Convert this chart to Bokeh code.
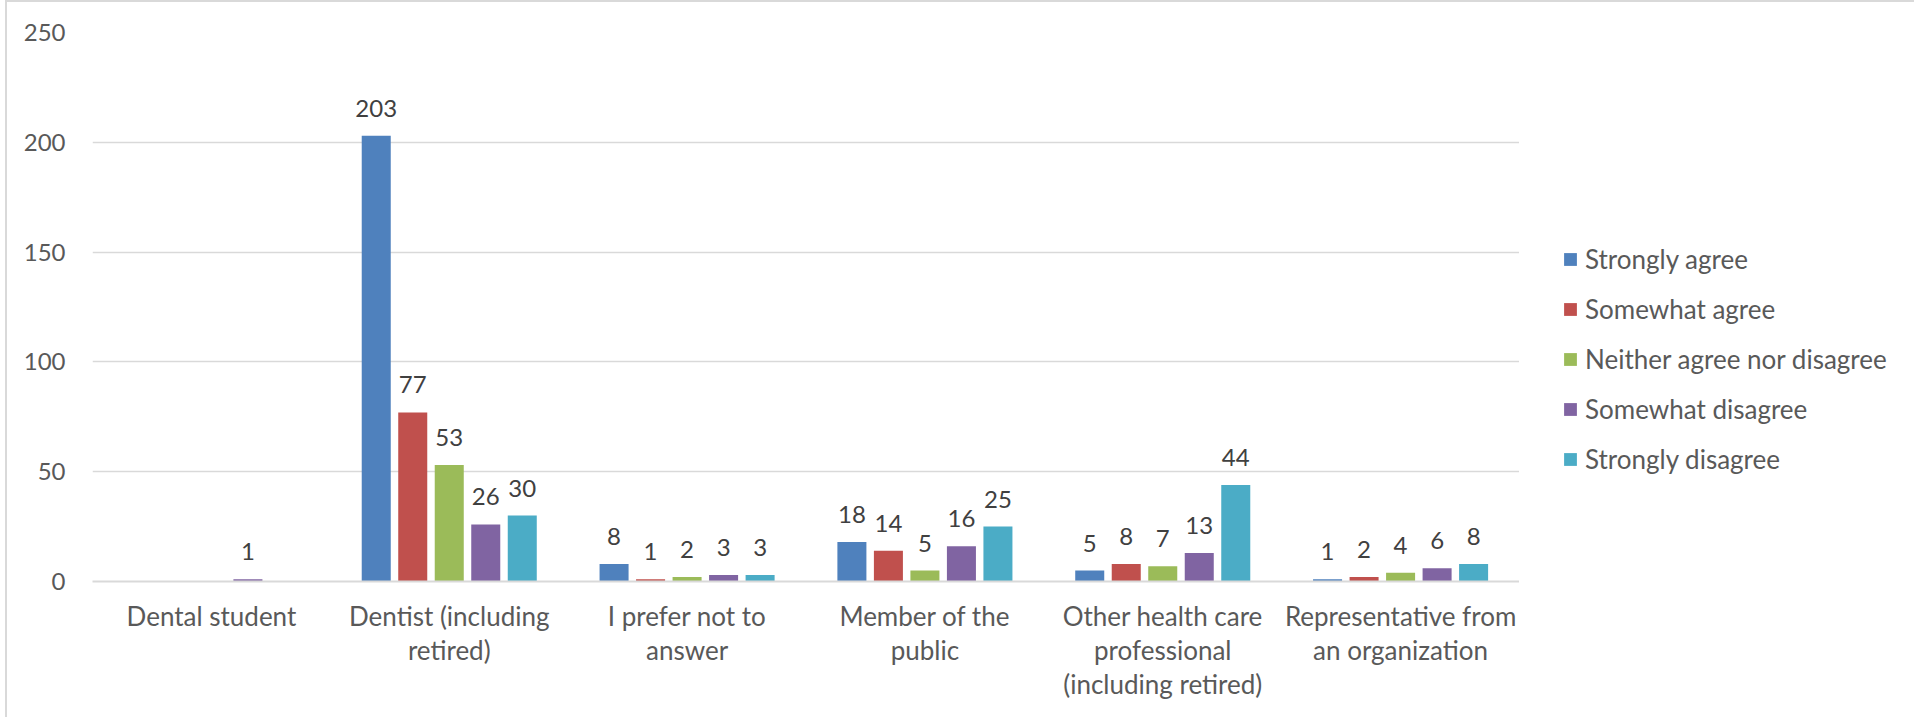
from bokeh.plotting import figure
from bokeh.layouts import row
from bokeh.models import (ColumnDataSource, FactorRange, Range1d, FixedTicker, LabelSet, Legend,
                          LegendItem, CategoricalAxis)
from bokeh.core.properties import value
from bokeh.transform import dodge
from bokeh.embed import file_html
from bokeh.resources import INLINE

categories = ["Dental student", "Dentist (including retired)", "I prefer not to answer",
              "Member of the public", "Other health care professional (including retired)",
              "Representative from an organization"]
category_labels = ["Dental student", "Dentist (including\nretired)", "I prefer not to\nanswer",
                   "Member of the\npublic", "Other health care\nprofessional\n(including retired)",
                   "Representative from\nan organization"]
series_names = ["Strongly agree", "Somewhat agree", "Neither agree nor disagree",
                "Somewhat disagree", "Strongly disagree"]
strongly_agree = [None, 203, 8, 18, 5, 1]
somewhat_agree = [None, 77, 1, 14, 8, 2]
neither = [None, 53, 2, 5, 7, 4]
somewhat_disagree = [1, 26, 3, 16, 13, 6]
strongly_disagree = [None, 30, 3, 25, 44, 8]
y_ticks = [0, 50, 100, 150, 200, 250]

series_values = [strongly_agree, somewhat_agree, neither, somewhat_disagree, strongly_disagree]
colors = ["#4F81BD", "#C0504D", "#9BBB59", "#8064A2", "#4BACC6"]

FONT = "Lato"
TXT = "#595959"

# one factor range per text line of the category labels (blank slots get unique blanks)
split = [lab.split("\n") for lab in category_labels]
line_factors = []
for k in range(3):
    fac = []
    for j, s in enumerate(split):
        fac.append(s[k] if k < len(s) else " " * (j + 1))
    line_factors.append(fac)

chart = figure(x_range=FactorRange(factors=categories, range_padding=0),
               y_range=Range1d(0, 250),
               width=1512, height=715, output_backend="svg", toolbar_location=None,
               min_border_left=85, min_border_right=0, min_border_top=30, min_border_bottom=136)
chart.outline_line_color = None
chart.background_fill_color = "white"
chart.border_fill_color = "white"
chart.extra_x_ranges = {f"line{k}": FactorRange(factors=line_factors[k], range_padding=0) for k in range(3)}

pitch = 0.1535
bw = 0.122
for i, (name, vals, col) in enumerate(zip(series_names, series_values, colors)):
    off = (i - 2) * pitch
    src = ColumnDataSource(dict(
        cat=categories,
        val=[float("nan") if v is None else v for v in vals],
        lab=["" if v is None else str(v) for v in vals],
    ))
    chart.vbar(x=dodge("cat", off, range=chart.x_range), top="val", width=bw, source=src,
               fill_color=col, line_color=None)
    chart.add_layout(LabelSet(x=dodge("cat", off, range=chart.x_range), y="val", text="lab", source=src,
                              y_offset=19, text_align="center", text_baseline="alphabetic",
                              text_font=value(FONT), text_font_size="24px", text_color="#404040"))

chart.xgrid.grid_line_color = None
chart.ygrid.grid_line_color = "#d9d9d9"
chart.ygrid.grid_line_width = 1.5
chart.yaxis.ticker = FixedTicker(ticks=y_ticks)
chart.yaxis.axis_line_color = None
chart.yaxis.major_tick_line_color = None
chart.yaxis.minor_tick_line_color = None
chart.yaxis.major_tick_out = 0
chart.yaxis.major_tick_in = 0
chart.yaxis.major_label_standoff = 27
chart.yaxis.major_label_text_font = FONT
chart.yaxis.major_label_text_font_size = "24px"
chart.yaxis.major_label_text_color = TXT

chart.xaxis.visible = False
for k in range(3):
    ax = CategoricalAxis(x_range_name=f"line{k}")
    chart.add_layout(ax, "below")
    ax.axis_line_color = "#d9d9d9" if k == 0 else None
    ax.axis_line_width = 2
    ax.major_tick_line_color = None
    ax.major_tick_out = 0
    ax.major_tick_in = 0
    ax.major_label_standoff = 18 if k == 0 else -1
    ax.major_label_text_font = FONT
    ax.major_label_text_font_size = "26px"
    ax.major_label_text_color = TXT

# legend panel
leg = figure(width=395, height=715, output_backend="svg", toolbar_location=None,
             x_range=Range1d(0, 1), y_range=Range1d(0, 1),
             min_border_left=0, min_border_right=0, min_border_top=0, min_border_bottom=0)
leg.axis.visible = False
leg.grid.visible = False
leg.outline_line_color = None
items = []
for name, col in zip(series_names, colors):
    dummy = ColumnDataSource(dict(x=[float("nan")], top=[float("nan")]))
    r = leg.vbar(x="x", top="top", width=0.1, source=dummy, fill_color=col, line_color=None)
    items.append(LegendItem(label=name, renderers=[r]))
lg = Legend(items=items, location=(43, 106), orientation="vertical",
            glyph_width=16, glyph_height=16, label_height=30, spacing=18,
            padding=0, margin=0, label_standoff=7, border_line_color=None,
            background_fill_alpha=0, label_text_font=FONT, label_text_font_size="26px",
            label_text_color=TXT)
leg.add_layout(lg)

p = row(chart, leg, spacing=0,
        styles={"border-left": "2px solid #d9d9d9", "border-top": "2px solid #d9d9d9", "margin-left": "5px"})

open("out.html", "w").write(file_html(p, INLINE))
